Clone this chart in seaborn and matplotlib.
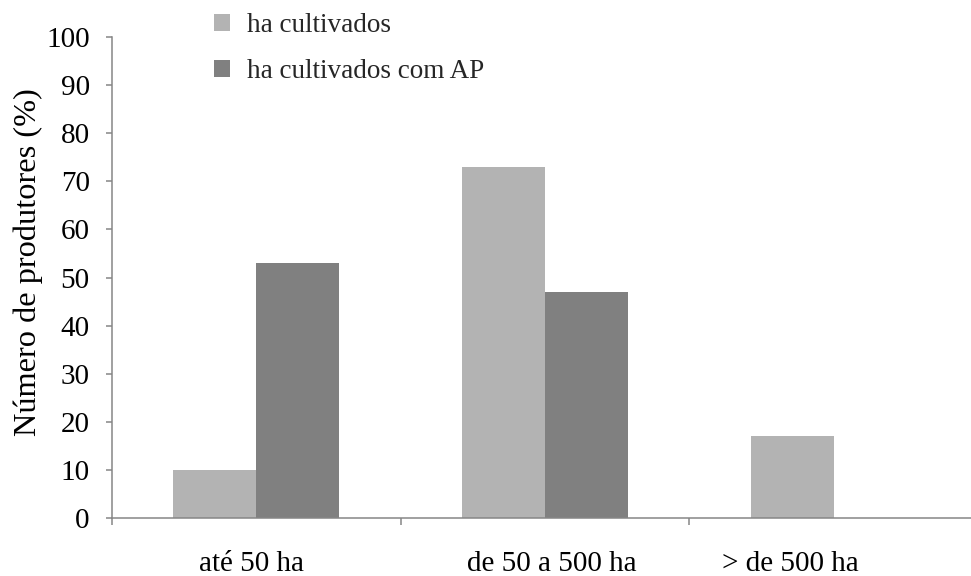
import matplotlib
matplotlib.use("Agg")
import matplotlib.pyplot as plt
import matplotlib.transforms as mtransforms
from matplotlib.patches import Patch
import seaborn as sns
import pandas as pd

categorias = ["até 50 ha", "de 50 a 500 ha", "> de 500 ha"]
series = ["ha cultivados", "ha cultivados com AP"]
ha_cultivados = [10, 73, 17]
ha_cultivados_ap = [53, 47, 0]
yticks = [0, 10, 20, 30, 40, 50, 60, 70, 80, 90, 100]

cores = {"ha cultivados": "#b3b3b3", "ha cultivados com AP": "#808080"}

df = pd.DataFrame({
    "categoria": categorias * 2,
    "serie": [series[0]] * 3 + [series[1]] * 3,
    "valor": ha_cultivados + ha_cultivados_ap,
})

sns.set_theme(style="white")
plt.rcParams["font.family"] = ["Liberation Serif", "DejaVu Serif"]

fig = plt.figure(figsize=(9.71, 5.76), dpi=100)
ax = fig.add_axes([112 / 971, 58 / 576, 866 / 971, 481 / 576])

sns.barplot(data=df, x="categoria", y="valor", hue="serie", order=categorias,
            hue_order=series, palette=cores, width=0.576, saturation=1,
            edgecolor="none", linewidth=0, ax=ax, legend=False)

ax.set_xlim(-0.5, 2.5)
ax.set_ylim(0, 100)
ax.set_yticks(yticks)
ax.set_xlabel("")
ax.set_ylabel("Número de produtores (%)", fontsize=23.3, color="black")
ax.yaxis.set_label_coords(-(112 - 28) / 866, (518 - 262) / 481)
ax.yaxis.label.set_va("center")

for s in ["top", "right"]:
    ax.spines[s].set_visible(False)
for s in ["left", "bottom"]:
    ax.spines[s].set_color("#868686")
    ax.spines[s].set_linewidth(1.1)

ax.tick_params(axis="y", which="major", left=True, length=4, width=1.1,
               color="#868686", pad=12, labelsize=21, labelcolor="black")
ax.tick_params(axis="x", which="major", bottom=False, length=0, pad=24,
               labelsize=21, labelcolor="black")
ax.set_xticks([-0.5, 0.5, 1.5, 2.5], minor=True)
ax.tick_params(axis="x", which="minor", bottom=True, length=5, width=1.1,
               color="#868686")

# the last category label sits a little left of its group
lbls = ax.get_xticklabels()
offsets = [-5, 7, -43]
for lbl, dx in zip(lbls, offsets):
    lbl.set_transform(lbl.get_transform() +
                      mtransforms.ScaledTranslation(dx / 100, 0, fig.dpi_scale_trans))

handles = [Patch(facecolor=cores[s], edgecolor="none") for s in series]
fig.legend(handles, series, loc="upper left", bbox_to_anchor=(214 / 971, 1 - 13 / 576),
           frameon=False, fontsize=19.5, handlelength=0.6, handleheight=0.6,
           handletextpad=0.62, labelspacing=0.78, borderpad=0, borderaxespad=0)

fig.savefig("out.png", dpi=100)
